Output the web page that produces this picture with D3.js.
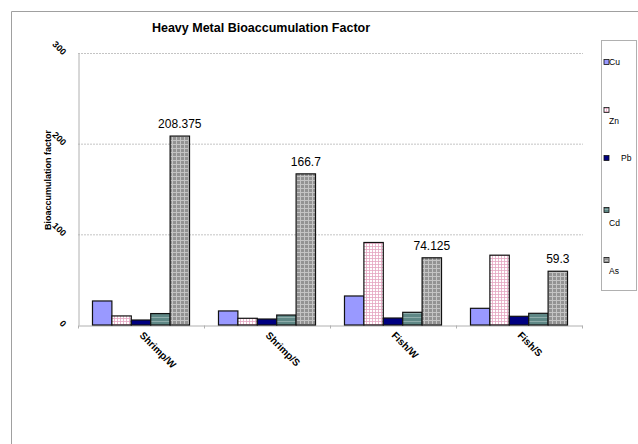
<!DOCTYPE html>
<html><head><meta charset="utf-8">
<script src="https://cdn.jsdelivr.net/npm/d3@7"></script>
<style>body{margin:0;background:#fff}svg{display:block;font-family:"Liberation Sans",Arial,sans-serif}</style>
</head><body>
<svg id="c" width="638" height="444"></svg>
<script>
const categories = ["Shrimp/W","Shrimp/S","Fish/W","Fish/S"];
const seriesNames = ["Cu","Zn","Pb","Cd","As"];
const Cu = [26.5, 15.5, 32, 18.4];
const Zn = [10, 7.4, 91, 77];
const Pb = [5.5, 6.6, 7.7, 9.6];
const Cd = [12.6, 11, 14, 12.9];
const As = [208.375, 166.7, 74.125, 59.3];
const yTicks = [0, 100, 200, 300];
const asLabels = ["208.375","166.7","74.125","59.3"];
const values = {Cu, Zn, Pb, Cd, As};

const svg = d3.select("#c");
const defs = svg.append("defs");
const pz = defs.append("pattern").attr("id","pZn").attr("patternUnits","userSpaceOnUse").attr("width",3).attr("height",3);
pz.append("rect").attr("width",3).attr("height",3).attr("fill","#fff");
pz.append("path").attr("d","M0,0.5H3M0.5,0V3").attr("stroke","#e4a6c2").attr("stroke-width",0.8);
const pc = defs.append("pattern").attr("id","pCd").attr("patternUnits","userSpaceOnUse").attr("width",4).attr("height",4);
pc.append("rect").attr("width",4).attr("height",4).attr("fill","#5f8886");
pc.append("path").attr("d","M0,1.5H4").attr("stroke","#8fadab").attr("stroke-width",1);
const pa = defs.append("pattern").attr("id","pAs").attr("patternUnits","userSpaceOnUse").attr("width",4).attr("height",4);
pa.append("rect").attr("width",4).attr("height",4).attr("fill","#939393");
pa.append("path").attr("d","M0,0.5H4M0.5,0V4").attr("stroke","#c4c4c4").attr("stroke-width",1);

const fills = {Cu:"#9999ff", Zn:"url(#pZn)", Pb:"#000080", Cd:"url(#pCd)", As:"url(#pAs)"};

svg.append("path").attr("d","M11.5,444V11.5H638").attr("fill","none").attr("stroke","#a0a0a0");

const x0 = d3.scaleBand().domain(categories).range([78,582]).paddingInner(0.23).paddingOuter(0.115);
const x1 = d3.scaleBand().domain(seriesNames).range([0, x0.bandwidth()]);
const y = d3.scaleLinear().domain([0,300]).range([325,53]);

svg.append("g").selectAll("line").data(yTicks.filter(d=>d>0)).join("line")
  .attr("x1",78).attr("x2",583).attr("y1",d=>y(d)+0.5).attr("y2",d=>y(d)+0.5)
  .attr("stroke","#c4c4c4").attr("stroke-dasharray","2,1");

const yAxis = svg.append("g").attr("transform","translate(78.5,0)").call(d3.axisLeft(y).tickValues(yTicks).tickSize(0).tickFormat(d3.format("d")));
yAxis.select(".domain").attr("stroke","#b0b0b0");
yAxis.selectAll("text").attr("font-size",9).attr("font-weight","bold").attr("fill","#000")
  .attr("text-anchor","end").attr("x",0).attr("dy",0)
  .attr("transform","translate(-16,2) rotate(45)");

const xAxis = svg.append("g").attr("transform","translate(0,325.5)").call(d3.axisBottom(x0).tickSize(0).tickFormat(""));
xAxis.select(".domain").attr("stroke","#b0b0b0");
xAxis.append("g").selectAll("line").data([0,1,2,3,4]).join("line")
  .attr("x1",i=>x0.step()*i+78+0.5).attr("x2",i=>x0.step()*i+78+0.5).attr("y1",0).attr("y2",3).attr("stroke","#b0b0b0");

svg.append("g").selectAll("text").data(categories).join("text")
  .attr("transform",d=>`translate(${x0(d)+x0.bandwidth()/2-2},336) rotate(45)`)
  .attr("font-size",10).attr("font-weight","bold").attr("fill","#000").text(d=>d);

const g = svg.append("g");
categories.forEach((c,i)=>{
  seriesNames.forEach(s=>{
    const v = values[s][i];
    g.append("rect").attr("x",x0(c)+x1(s)).attr("y",y(v)).attr("width",x1.bandwidth()).attr("height",y(0)-y(v))
      .attr("fill",fills[s]).attr("stroke","#111").attr("stroke-width",1.2);
  });
});
svg.append("g").selectAll("text").data(categories).join("text")
  .attr("x",(d)=>x0(d)+x1("As")+x1.bandwidth()/2).attr("y",(d,i)=>y(As[i])-8)
  .attr("text-anchor","middle").attr("font-size",12).attr("fill","#000").text((d,i)=>asLabels[i]);

svg.append("text").attr("x",261).attr("y",32).attr("text-anchor","middle").attr("font-size",12.5).attr("font-weight","bold").text("Heavy Metal Bioaccumulation Factor");
svg.append("text").attr("transform","translate(51,180) rotate(-90)").attr("text-anchor","middle").attr("font-size",9).attr("font-weight","bold").text("Bioaccumulation factor");

svg.append("rect").attr("x",601.5).attr("y",40.5).attr("width",35).attr("height",250).attr("fill","#fff").attr("stroke","#b0b0b0");
const legPos = [
  {sy:62, tx:609, ty:65},
  {sy:110, tx:609, ty:124},
  {sy:158, tx:621, ty:161},
  {sy:210, tx:609, ty:226},
  {sy:260, tx:609, ty:274}
];
seriesNames.forEach((s,i)=>{
  const p = legPos[i];
  svg.append("rect").attr("x",604).attr("y",p.sy-2.5).attr("width",5).attr("height",5).attr("fill",fills[s]).attr("stroke","#111").attr("stroke-width",0.8);
  svg.append("text").attr("x",p.tx).attr("y",p.ty).attr("font-size",8.5).attr("fill","#000").text(s);
});
</script>
</body></html>
